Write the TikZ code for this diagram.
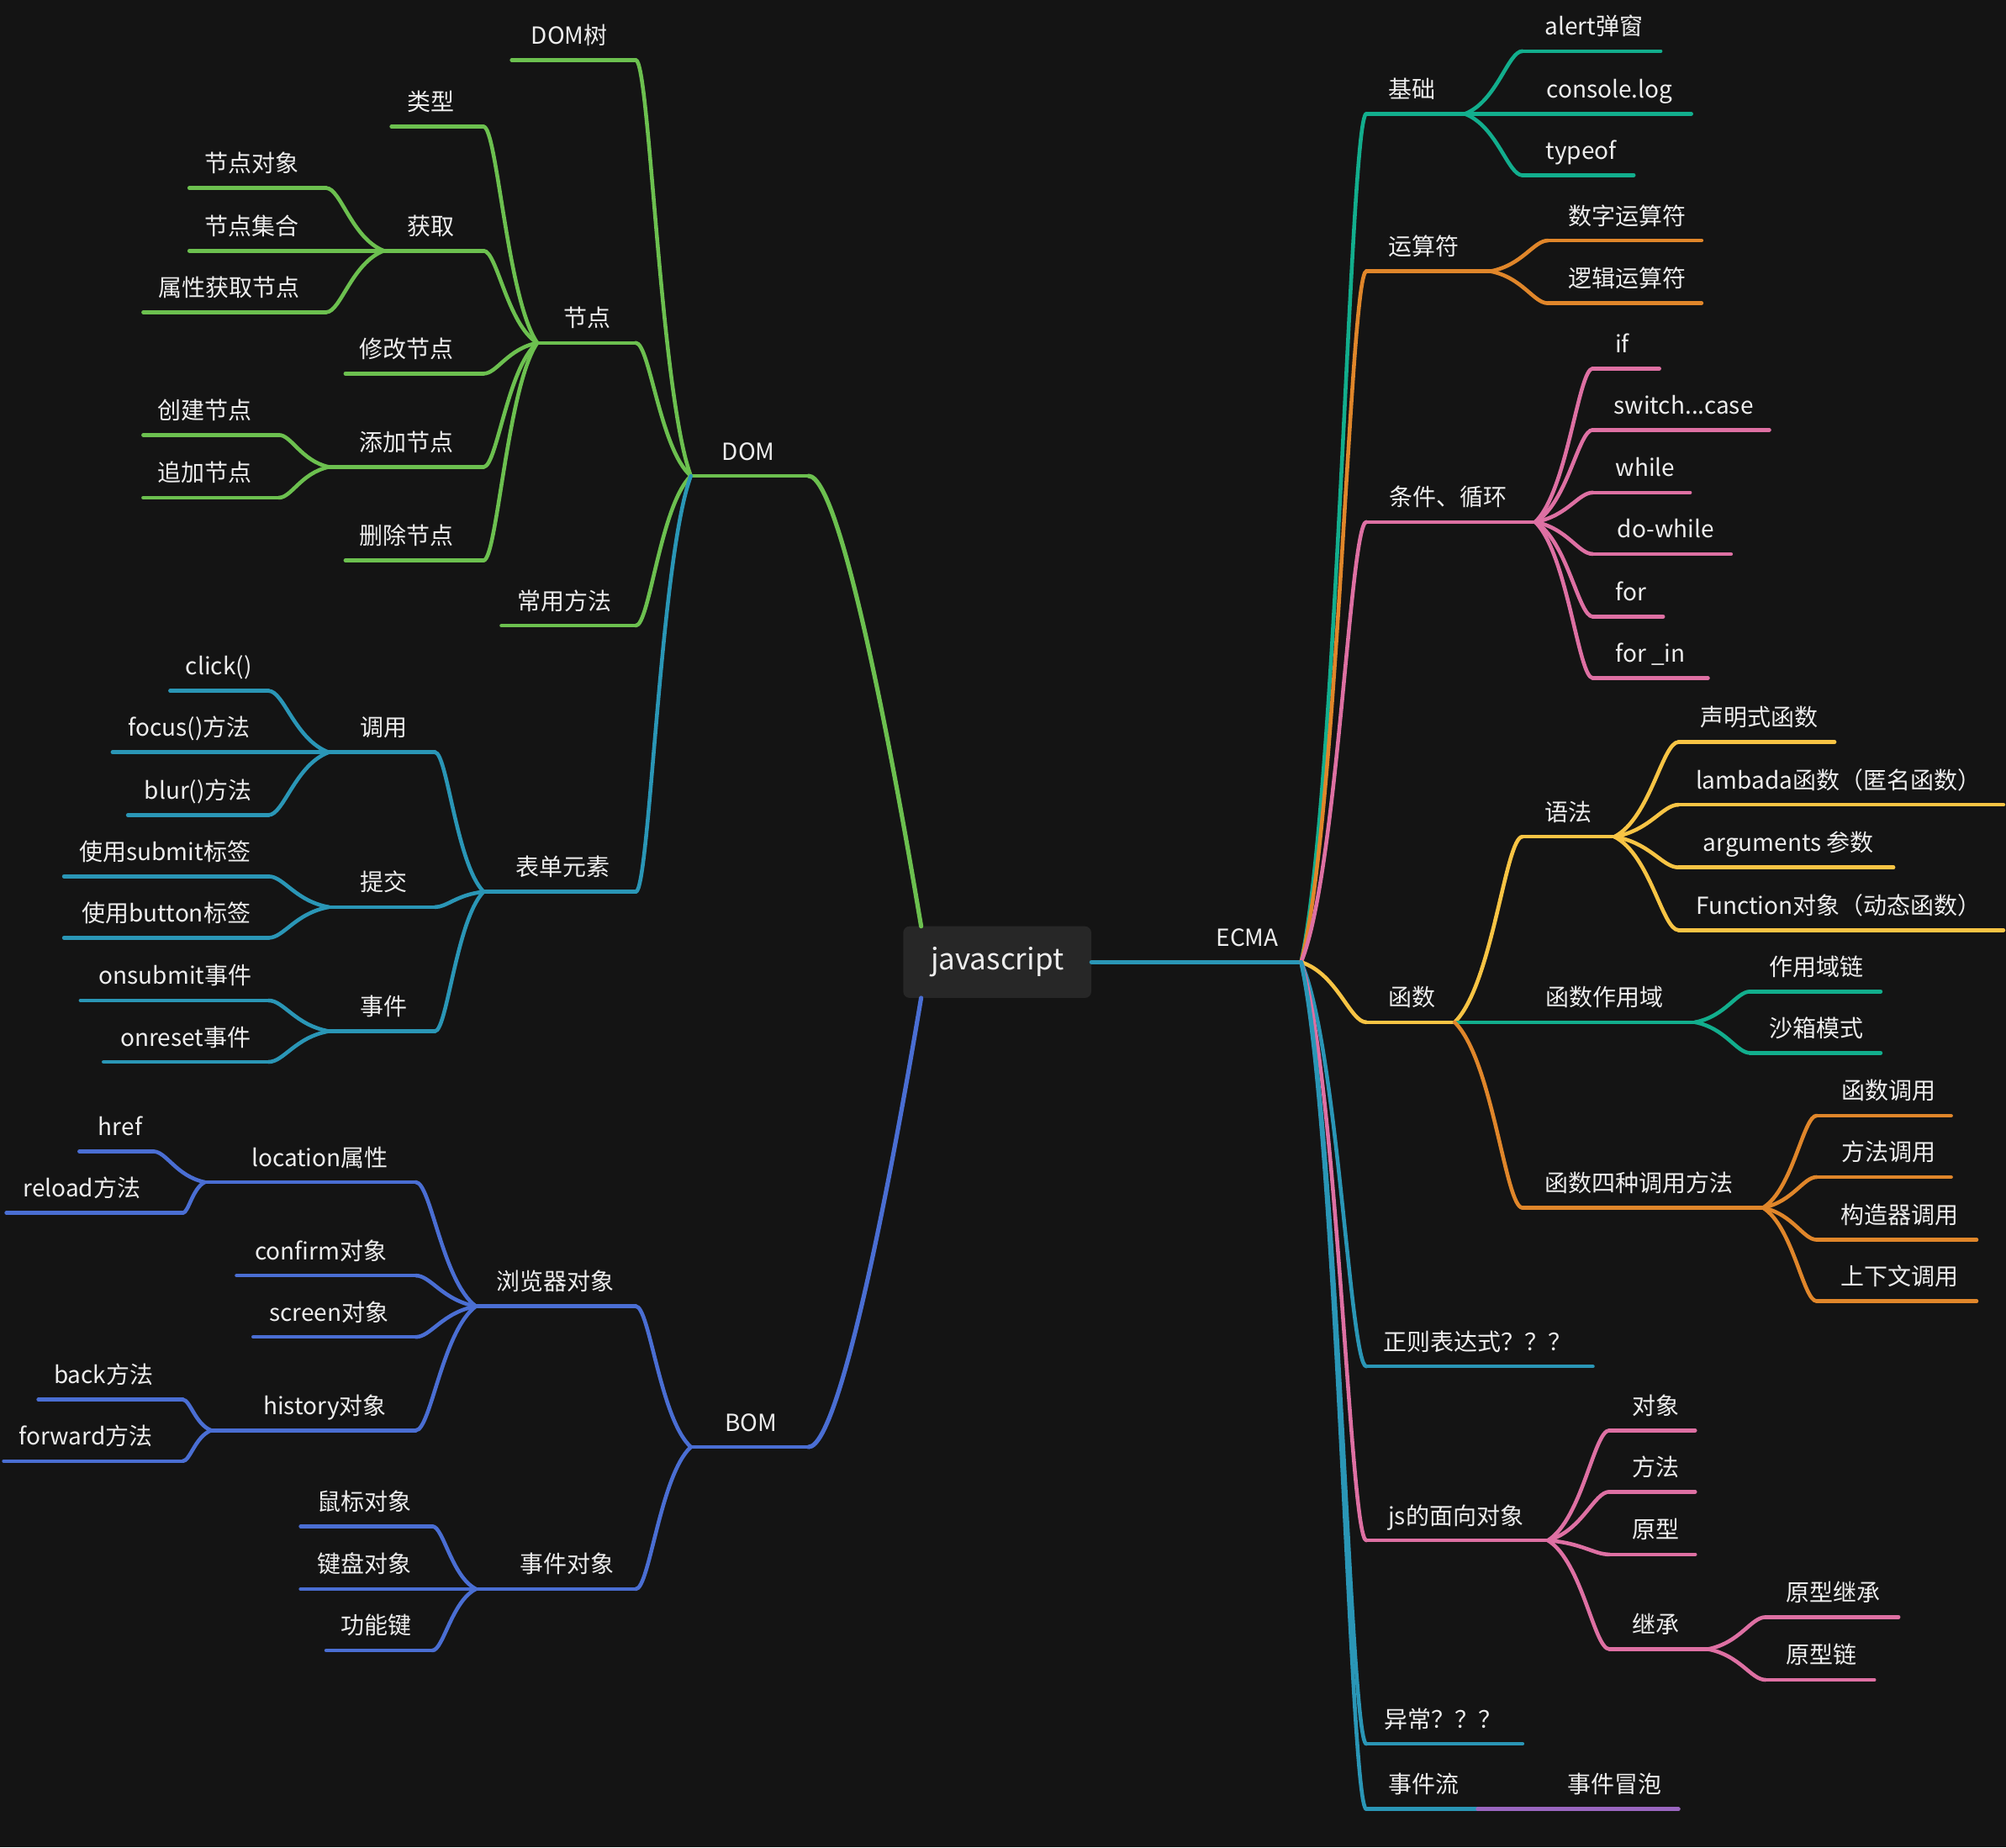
\documentclass[tikz,border=0pt]{standalone}
\usepackage{fontspec}
\setmainfont{Noto Sans CJK SC}
\usetikzlibrary{calc}
\definecolor{bg}{HTML}{141414}
\definecolor{boxc}{HTML}{272727}
\definecolor{txt}{HTML}{EDEDED}
\definecolor{cgreen}{HTML}{6CC04F}
\definecolor{cteal}{HTML}{2A96B6}
\definecolor{cblue}{HTML}{4A6ED3}
\definecolor{cmint}{HTML}{12AE8D}
\definecolor{corange}{HTML}{E0862A}
\definecolor{cpink}{HTML}{DE70A3}
\definecolor{cyellow}{HTML}{F8C444}
\definecolor{cpurple}{HTML}{9A66C0}
% topic: name, text x, underline y, left x, right x, colour, text
\newcommand\mmtopic[7]{%
  \coordinate (#1-l) at (#4,#3);
  \coordinate (#1-r) at (#5,#3);
  \draw[#6,branch] (#1-l) -- (#1-r);
  \node[lbl] (#1) at (#2,#3-12.5) {#7};}
\newcommand\mmlink[3]{%
  \draw[#1,branch] let \p1=(#2), \p2=(#3) in
    (\p1) .. controls ({\x1+0.56*(\x2-\x1)},{\y1+0.2*(\y2-\y1)})
          and ({\x1+0.75*(\x2-\x1)},\y2) .. (\p2);}
\newcommand\linkR[3]{\mmlink{#1}{#2-r}{#3-l}}
\newcommand\linkL[3]{\mmlink{#1}{#2-l}{#3-r}}
\newcommand\rootlink[3]{%
  \draw[#1,branch,line width=3.4pt] let \p1=(#2), \p2=(#3) in
    (\p1) .. controls ({\x1+0.2*(\x2-\x1)},{\y1+0.3*(\y2-\y1)})
          and ({\x1+0.7*(\x2-\x1)},\y2) .. (\p2);}
\begin{document}
\begin{tikzpicture}[x=1pt,y=-1pt,
  lbl/.style={text=txt,inner sep=0pt,anchor=base,font=\fontsize{18.4}{22}\selectfont},
  branch/.style={line width=3pt,line cap=round}]
\fill[bg] (0,0) rectangle (1568,1444);
\useasboundingbox (0,0) rectangle (1568,1444);
% centre
\node[fill=boxc,rounded corners=5pt,minimum width=147pt,minimum height=56pt,inner sep=0pt,
      text=txt,font=\fontsize{23}{28}\selectfont] (js) at (779.5,752) {javascript};
\coordinate (jsn) at (720,724);
\coordinate (jss) at (720,780);

% ================= right: ECMA =================
\coordinate (ecma-l) at (js.east);
\coordinate (ecma-r) at (1017,752);
\draw[cteal,branch,line width=3.4pt] (ecma-l) -- (ecma-r);
\node[lbl] (ecma) at (975,739.5) {ECMA};

\mmtopic{jc}{1104}{89}{1068}{1145}{cmint}{基础}
\mmtopic{jca}{1246}{40}{1190}{1298}{cmint}{alert弹窗}
\mmtopic{jcb}{1258}{89}{1190}{1322}{cmint}{console.log}
\mmtopic{jcc}{1236}{137}{1190}{1277}{cmint}{typeof}
\linkR{cmint}{ecma}{jc}
\linkR{cmint}{jc}{jca}\linkR{cmint}{jc}{jcb}\linkR{cmint}{jc}{jcc}

\mmtopic{ys}{1113}{212}{1068}{1165}{corange}{运算符}
\mmtopic{ysa}{1272}{188}{1210}{1330}{corange}{数字运算符}
\mmtopic{ysb}{1272}{237}{1210}{1330}{corange}{逻辑运算符}
\linkR{corange}{ecma}{ys}
\linkR{corange}{ys}{ysa}\linkR{corange}{ys}{ysb}

\mmtopic{tj}{1132}{408}{1068}{1200}{cpink}{条件、循环}
\mmtopic{tja}{1268}{288}{1245}{1297}{cpink}{if}
\mmtopic{tjb}{1316}{336}{1245}{1383}{cpink}{switch...case}
\mmtopic{tjc}{1286}{385}{1245}{1321}{cpink}{while}
\mmtopic{tjd}{1302}{433}{1245}{1353}{cpink}{do-while}
\mmtopic{tje}{1275}{482}{1245}{1300}{cpink}{for}
\mmtopic{tjf}{1290}{530}{1245}{1335}{cpink}{for \_in}
\linkR{cpink}{ecma}{tj}
\linkR{cpink}{tj}{tja}\linkR{cpink}{tj}{tjb}\linkR{cpink}{tj}{tjc}
\linkR{cpink}{tj}{tjd}\linkR{cpink}{tj}{tje}\linkR{cpink}{tj}{tjf}

\mmtopic{hs}{1104}{799}{1068}{1137}{cyellow}{函数}
\linkR{cyellow}{ecma}{hs}
\mmtopic{yf}{1226}{654}{1190}{1262}{cyellow}{语法}
\linkR{cyellow}{hs}{yf}
\mmtopic{yfa}{1375}{580}{1312}{1434}{cyellow}{声明式函数}
\mmtopic{yfb}{1437}{629}{1312}{1566}{cyellow}{lambada函数（匿名函数）}
\mmtopic{yfc}{1398}{678}{1312}{1480}{cyellow}{arguments 参数}
\mmtopic{yfd}{1437}{727}{1312}{1566}{cyellow}{Function对象（动态函数）}
\linkR{cyellow}{yf}{yfa}\linkR{cyellow}{yf}{yfb}\linkR{cyellow}{yf}{yfc}\linkR{cyellow}{yf}{yfd}
\mmtopic{zy}{1254}{799}{1190}{1325}{cmint}{函数作用域}
\linkR{cmint}{hs}{zy}
\mmtopic{zya}{1420}{775}{1368}{1470}{cmint}{作用域链}
\mmtopic{zyb}{1420}{823}{1368}{1470}{cmint}{沙箱模式}
\linkR{cmint}{zy}{zya}\linkR{cmint}{zy}{zyb}
\mmtopic{dy}{1281}{944}{1190}{1378}{corange}{函数四种调用方法}
\linkR{corange}{hs}{dy}
\mmtopic{dya}{1476}{872}{1420}{1525}{corange}{函数调用}
\mmtopic{dyb}{1476}{920}{1420}{1525}{corange}{方法调用}
\mmtopic{dyc}{1485}{969}{1420}{1545}{corange}{构造器调用}
\mmtopic{dyd}{1485}{1017}{1420}{1545}{corange}{上下文调用}
\linkR{corange}{dy}{dya}\linkR{corange}{dy}{dyb}\linkR{corange}{dy}{dyc}\linkR{corange}{dy}{dyd}

\mmtopic{zz}{1155}{1068}{1068}{1245}{cteal}{正则表达式？？？}
\linkR{cteal}{ecma}{zz}

\mmtopic{mx}{1138}{1204}{1068}{1210}{cpink}{js的面向对象}
\linkR{cpink}{ecma}{mx}
\mmtopic{mxa}{1294}{1118}{1258}{1325}{cpink}{对象}
\mmtopic{mxb}{1294}{1166}{1258}{1325}{cpink}{方法}
\mmtopic{mxc}{1294}{1215}{1258}{1325}{cpink}{原型}
\mmtopic{mxd}{1294}{1289}{1258}{1335}{cpink}{继承}
\linkR{cpink}{mx}{mxa}\linkR{cpink}{mx}{mxb}\linkR{cpink}{mx}{mxc}\linkR{cpink}{mx}{mxd}
\mmtopic{jwa}{1433}{1264}{1380}{1484}{cpink}{原型继承}
\mmtopic{jwb}{1424}{1313}{1380}{1465}{cpink}{原型链}
\linkR{cpink}{mxd}{jwa}\linkR{cpink}{mxd}{jwb}

\mmtopic{yc}{1128}{1363}{1068}{1190}{cteal}{异常？？？}
\linkR{cteal}{ecma}{yc}
\mmtopic{sj}{1113}{1414}{1068}{1155}{cteal}{事件流}
\linkR{cteal}{ecma}{sj}
\mmtopic{mp}{1262}{1414}{1212}{1312}{cpurple}{事件冒泡}
\linkR{cpurple}{sj}{mp}

% ================= left: DOM =================
\mmtopic{dom}{585}{372}{540}{632}{cgreen}{DOM}
\rootlink{cgreen}{jsn}{dom-r}
\mmtopic{ds}{445}{47}{400}{497}{cgreen}{DOM树}
\linkL{cgreen}{dom}{ds}
\mmtopic{jd}{459}{268}{420}{497}{cgreen}{节点}
\linkL{cgreen}{dom}{jd}
\mmtopic{lx}{337}{99}{306}{378}{cgreen}{类型}
\mmtopic{hq}{337}{196}{300}{378}{cgreen}{获取}
\mmtopic{xg}{318}{292}{270}{378}{cgreen}{修改节点}
\mmtopic{tjn}{318}{365}{257}{378}{cgreen}{添加节点}
\mmtopic{sc}{318}{438}{270}{378}{cgreen}{删除节点}
\linkL{cgreen}{jd}{lx}\linkL{cgreen}{jd}{hq}\linkL{cgreen}{jd}{xg}
\linkL{cgreen}{jd}{tjn}\linkL{cgreen}{jd}{sc}
\mmtopic{hqa}{197}{147}{148}{255}{cgreen}{节点对象}
\mmtopic{hqb}{197}{196}{148}{255}{cgreen}{节点集合}
\mmtopic{hqc}{179}{244}{112}{255}{cgreen}{属性获取节点}
\linkL{cgreen}{hq}{hqa}\linkL{cgreen}{hq}{hqb}\linkL{cgreen}{hq}{hqc}
\mmtopic{tja2}{160}{340}{112}{218}{cgreen}{创建节点}
\mmtopic{tjb2}{160}{389}{112}{218}{cgreen}{追加节点}
\linkL{cgreen}{tjn}{tja2}\linkL{cgreen}{tjn}{tjb2}
\mmtopic{cy}{441}{489}{392}{497}{cgreen}{常用方法}
\linkL{cgreen}{dom}{cy}

\mmtopic{bd}{440}{697}{378}{497}{cteal}{表单元素}
\linkL{cteal}{dom}{bd}
\mmtopic{dyo}{300}{588}{257}{340}{cteal}{调用}
\mmtopic{tg}{300}{709}{257}{340}{cteal}{提交}
\mmtopic{sjo}{300}{806}{257}{340}{cteal}{事件}
\linkL{cteal}{bd}{dyo}\linkL{cteal}{bd}{tg}\linkL{cteal}{bd}{sjo}
\mmtopic{dyoa}{171}{540}{133}{210}{cteal}{click()}
\mmtopic{dyob}{148}{588}{88}{218}{cteal}{focus()方法}
\mmtopic{dyoc}{155}{637}{100}{210}{cteal}{blur()方法}
\linkL{cteal}{dyo}{dyoa}\linkL{cteal}{dyo}{dyob}\linkL{cteal}{dyo}{dyoc}
\mmtopic{tga}{129}{685}{50}{210}{cteal}{使用submit标签}
\mmtopic{tgb}{130}{733}{50}{210}{cteal}{使用button标签}
\linkL{cteal}{tg}{tga}\linkL{cteal}{tg}{tgb}
\mmtopic{sjoa}{137}{782}{63}{210}{cteal}{onsubmit事件}
\mmtopic{sjob}{145}{830}{81}{210}{cteal}{onreset事件}
\linkL{cteal}{sjo}{sjoa}\linkL{cteal}{sjo}{sjob}

% ================= left: BOM =================
\mmtopic{bom}{587}{1131}{540}{632}{cblue}{BOM}
\rootlink{cblue}{jss}{bom-r}
\mmtopic{ll}{434}{1021}{372}{497}{cblue}{浏览器对象}
\linkL{cblue}{bom}{ll}
\mmtopic{loc}{250}{924}{160}{325}{cblue}{location属性}
\mmtopic{cf}{251}{997}{185}{325}{cblue}{confirm对象}
\mmtopic{scr}{257}{1045}{198}{325}{cblue}{screen对象}
\mmtopic{his}{254}{1118}{165}{325}{cblue}{history对象}
\linkL{cblue}{ll}{loc}\linkL{cblue}{ll}{cf}\linkL{cblue}{ll}{scr}\linkL{cblue}{ll}{his}
\mmtopic{loca}{94}{900}{62}{120}{cblue}{href}
\mmtopic{locb}{64}{948}{5}{143}{cblue}{reload方法}
\linkL{cblue}{loc}{loca}\linkL{cblue}{loc}{locb}
\mmtopic{hisa}{81}{1094}{30}{143}{cblue}{back方法}
\mmtopic{hisb}{67}{1142}{3}{143}{cblue}{forward方法}
\linkL{cblue}{his}{hisa}\linkL{cblue}{his}{hisb}
\mmtopic{sjd}{443}{1242}{372}{497}{cblue}{事件对象}
\linkL{cblue}{bom}{sjd}
\mmtopic{sjda}{285}{1193}{235}{338}{cblue}{鼠标对象}
\mmtopic{sjdb}{285}{1242}{235}{338}{cblue}{键盘对象}
\mmtopic{sjdc}{294}{1290}{255}{338}{cblue}{功能键}
\linkL{cblue}{sjd}{sjda}\linkL{cblue}{sjd}{sjdb}\linkL{cblue}{sjd}{sjdc}
\end{tikzpicture}
\end{document}
